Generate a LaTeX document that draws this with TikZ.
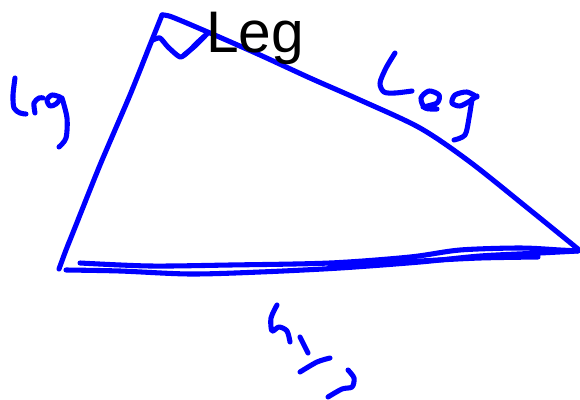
\documentclass[tikz,border=0pt]{standalone}
\usepackage{fontspec}
\setmainfont{Liberation Sans}
\begin{document}
\begin{tikzpicture}[x=0.75pt,y=-0.75pt,
  pen/.style={draw={rgb,255:red,0;green,0;blue,255},line width=3.8pt,line cap=round,line join=round},
  printed/.style={anchor=base west,inner sep=0pt,font=\fontsize{44}{44}\selectfont}]
\useasboundingbox (0,0) rectangle (580,399);
% vertices
\coordinate (top) at (162,15);
\coordinate (left) at (59,269);
\coordinate (right) at (578,250);
% left leg
\draw[pen] plot[smooth,tension=0.4] coordinates {(59,269) (66,250) (74,230) (100,165) (130,95) (150,45) (162,15)};
% top leg
\draw[pen] plot[smooth,tension=0.5] coordinates {(162,15) (172,17) (210,33) (260,55) (310,78) (360,100) (420,128) (470,162) (530,210) (578,249)};
% right angle mark
\draw[pen] plot[smooth,tension=0.4] coordinates {(153,40) (160,38) (168,47) (180,57) (188,52) (198,42) (207,34)};
\draw[pen] plot[smooth,tension=0.4] coordinates {(184,55) (195,46) (205,36)};
% hypotenuse strokes
\draw[pen] plot[smooth,tension=0.5] coordinates {(66,270) (120,271) (190,274) (260,272) (340,268) (420,262) (480,256) (540,253) (578,251)};
\draw[pen] plot[smooth,tension=0.5] coordinates {(80,263) (150,266) (230,265) (330,263) (410,257) (460,250) (520,248) (560,250) (578,251)};
\draw[pen] plot[smooth,tension=0.5] coordinates {(330,266) (420,261) (480,258) (538,257)};
% printed label
\node[printed] (legtext) at (206,53) {Leg};
% handwritten Leg (left)
\draw[pen] plot[smooth,tension=0.5] coordinates {(15,78) (13,95) (14,108) (20,113) (26,114)};
\draw[pen] plot[smooth,tension=0.5] coordinates {(35,113) (34,103) (39,98) (43,98)};
\draw[pen] plot[smooth,tension=0.5] coordinates {(60,97) (52,95) (47,100) (50,106) (56,104) (61,98)};
\draw[pen] plot[smooth,tension=0.5] coordinates {(62,98) (67,118) (66,138) (59,147)};
% handwritten Leg (right)
\draw[pen] plot[smooth,tension=0.5] coordinates {(395,53) (386,68) (380,83) (384,92) (395,93) (412,91)};
\draw[pen] plot[smooth,tension=0.5] coordinates {(423,107) (437,103) (439,95) (429,91) (421,98) (425,108) (437,109)};
\draw[pen] plot[smooth,tension=0.5] coordinates {(477,97) (467,92) (455,95) (452,103) (460,106) (470,101) (477,96)};
\draw[pen] plot[smooth,tension=0.5] coordinates {(472,99) (469,118) (465,135) (454,140)};
% handwritten hyp
\draw[pen] plot[smooth,tension=0.5] coordinates {(277,305) (271,318) (272,331) (279,327) (287,331) (290,342)};
\draw[pen] plot[smooth,tension=0.5] coordinates {(300,337) (308,353)};
\draw[pen] plot[smooth,tension=0.5] coordinates {(330,358) (317,362) (300,372)};
\draw[pen] plot[smooth,tension=0.5] coordinates {(348,370) (354,378) (352,387) (342,389) (328,397)};
\end{tikzpicture}
\end{document}
